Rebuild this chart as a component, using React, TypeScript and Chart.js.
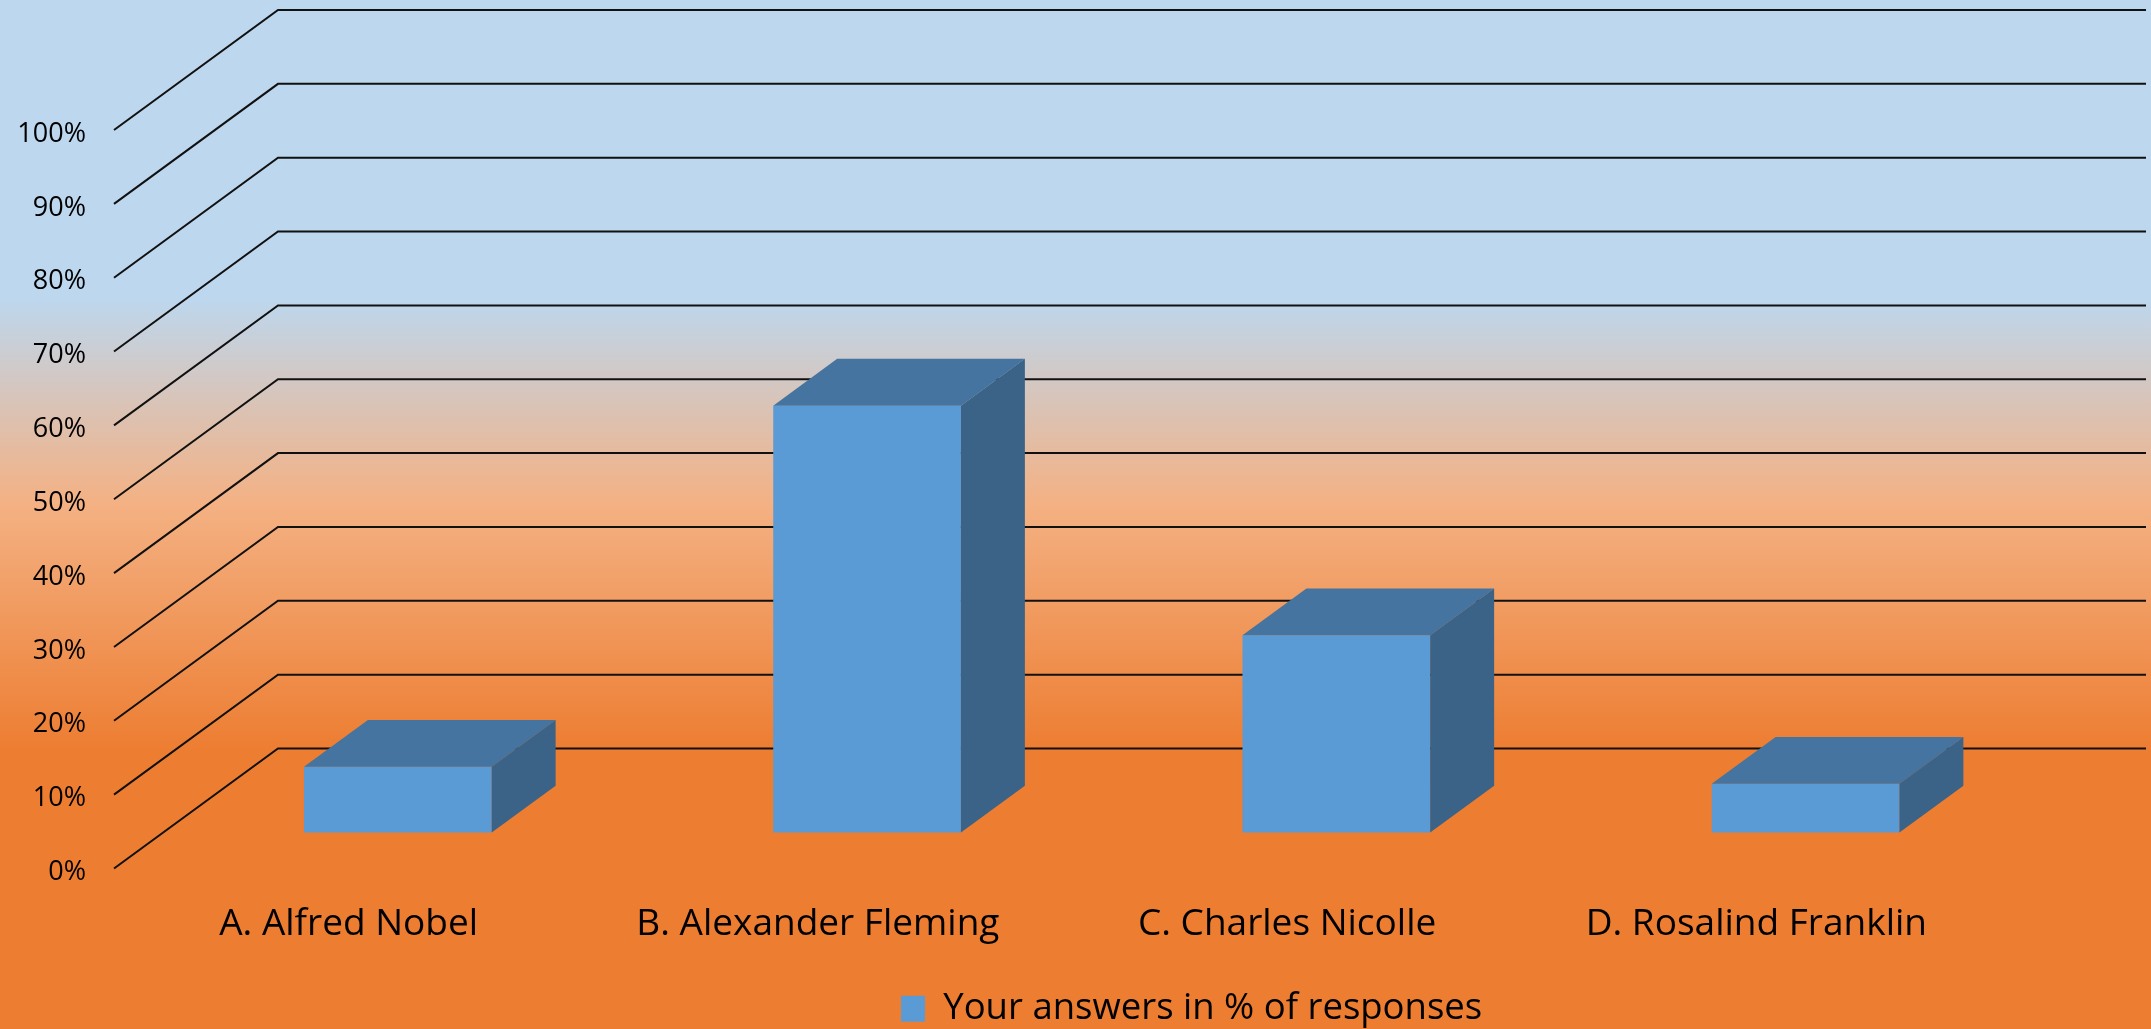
import React, { useEffect, useRef } from 'react';
import { Chart, registerables } from 'chart.js';

Chart.register(...registerables);

// ---- data ----
const categories = ['A. Alfred Nobel', 'B. Alexander Fleming', 'C. Charles Nicolle', 'D. Rosalind Franklin'];
const responses = [8.9, 57.8, 26.7, 6.6];
const seriesLabel = 'Your answers in % of responses';
const yMin = 0;
const yMax = 100;
const yStep = 10;

// ---- 3D look ----
const FLOOR_DX = 164;
const FLOOR_DY = 120;
const BAR_FRONT = 0.3;
const BAR_BACK = 0.69;
const FRONT_COLOR = '#5B9BD5';
const TOP_COLOR = '#44749F';
const SIDE_COLOR = '#3A6387';
const FONT = '"Open Sans", "Noto Sans", sans-serif';

const W = 2151;
const H = 1029;

const threeDPlugin = {
  id: 'threeD',
  beforeDraw(chart: any) {
    const { ctx } = chart;
    const g = ctx.createLinearGradient(0, 0, 0, chart.height);
    g.addColorStop(0, '#BDD7EE');
    g.addColorStop(0.29, '#BDD7EE');
    g.addColorStop(0.49, '#F4B183');
    g.addColorStop(0.73, '#ED7D31');
    g.addColorStop(1, '#ED7D31');
    ctx.save();
    ctx.fillStyle = g;
    ctx.fillRect(0, 0, chart.width, chart.height);
    ctx.restore();
  },
  afterLayout(chart: any) {
    const lg = chart.legend;
    if (!lg) return;
    const p = lg.options.labels.padding;
    const w = lg.width;
    const h = lg.height;
    lg.left = 901 - p;
    lg.right = lg.left + w;
    lg.top = 1009 - 18.5 - p;
    lg.bottom = lg.top + h;
  },
  beforeDatasetsDraw(chart: any) {
    const { ctx, chartArea, scales } = chart;
    const y = scales.y;
    ctx.save();
    ctx.strokeStyle = '#111111';
    ctx.lineWidth = 2;
    ctx.lineJoin = 'miter';
    y.ticks.forEach((t: any) => {
      const yf = y.getPixelForValue(t.value);
      ctx.beginPath();
      ctx.moveTo(chartArea.left, yf);
      ctx.lineTo(chartArea.left + FLOOR_DX, yf - FLOOR_DY);
      ctx.lineTo(chart.width - 5, yf - FLOOR_DY);
      ctx.stroke();
    });
    ctx.restore();
    ctx.save();
    ctx.translate(FLOOR_DX * BAR_FRONT, -FLOOR_DY * BAR_FRONT);
  },
  afterDatasetsDraw(chart: any) {
    const { ctx } = chart;
    const bdx = FLOOR_DX * (BAR_BACK - BAR_FRONT);
    const bdy = FLOOR_DY * (BAR_BACK - BAR_FRONT);
    const meta = chart.getDatasetMeta(0);
    meta.data.forEach((bar: any) => {
      const { x, y, base, width } = bar.getProps(['x', 'y', 'base', 'width'], true);
      const l = x - width / 2;
      const r = x + width / 2;
      // top face
      ctx.beginPath();
      ctx.moveTo(l, y);
      ctx.lineTo(l + bdx, y - bdy);
      ctx.lineTo(r + bdx, y - bdy);
      ctx.lineTo(r, y);
      ctx.closePath();
      ctx.fillStyle = TOP_COLOR;
      ctx.fill();
      // side face
      ctx.beginPath();
      ctx.moveTo(r, y);
      ctx.lineTo(r + bdx, y - bdy);
      ctx.lineTo(r + bdx, base - bdy);
      ctx.lineTo(r, base);
      ctx.closePath();
      ctx.fillStyle = SIDE_COLOR;
      ctx.fill();
    });
    ctx.restore();
  },
};

export default function App() {
  const ref = useRef<HTMLCanvasElement | null>(null);

  useEffect(() => {
    const canvas = ref.current;
    if (!canvas) return;
    const chart = new Chart(canvas, {
      type: 'bar',
      data: {
        labels: categories,
        datasets: [
          {
            label: seriesLabel,
            data: responses,
            backgroundColor: FRONT_COLOR,
            borderWidth: 0,
            categoryPercentage: 1,
            barPercentage: 0.4,
            clip: false as any,
          },
        ],
      },
      options: {
        responsive: false,
        animation: false,
        devicePixelRatio: 1,
        layout: { padding: { top: 130, right: 160, bottom: 0, left: 0 } },
        plugins: {
          tooltip: { enabled: false },
          legend: {
            position: 'bottom',
            align: 'start',
            labels: {
              boxWidth: 24,
              boxHeight: 26,
              padding: 10,
              color: '#000000',
              font: { family: FONT, size: 36.5 },
            },
          },
        },
        scales: {
          x: {
            grid: { display: false, drawTicks: false },
            border: { display: false },
            ticks: {
              color: '#000000',
              font: { family: FONT, size: 37 },
              padding: 34,
              maxRotation: 0,
              autoSkip: false,
            },
            afterFit: (s: any) => {
              s.height = 104;
            },
          },
          y: {
            min: yMin,
            max: yMax,
            grid: { display: false, drawTicks: false },
            border: { display: false },
            ticks: {
              stepSize: yStep,
              color: '#000000',
              font: { family: FONT, size: 27 },
              padding: 28,
              labelOffset: 4,
              callback: (v: any) => v + '%',
            },
            afterFit: (s: any) => {
              s.width = 114;
            },
          },
        },
      },
      plugins: [threeDPlugin],
    } as any);
    return () => chart.destroy();
  }, []);

  return (
    <div style={{ position: 'fixed', left: 0, top: 0, width: W, height: H, overflow: 'hidden' }}>
      <canvas ref={ref} width={W} height={H} style={{ display: 'block', width: W, height: H }} />
    </div>
  );
}
